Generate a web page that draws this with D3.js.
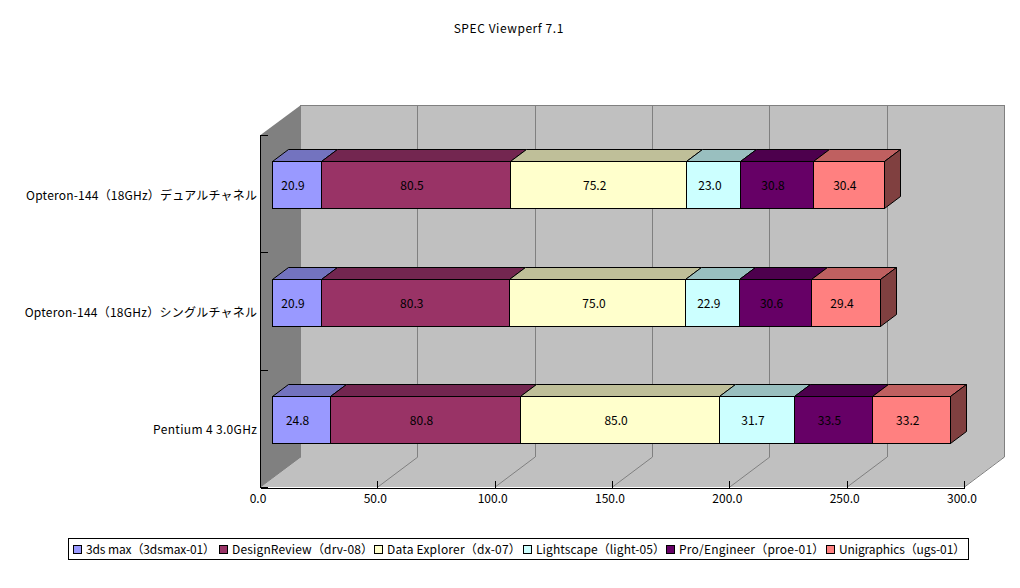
<!DOCTYPE html>
<html><head><meta charset="utf-8">
<script src="https://cdn.jsdelivr.net/npm/d3@7"></script>
<style>
html,body{margin:0;padding:0;background:#fff}
svg{display:block}
text{font-family:"Noto Sans CJK JP","Noto Sans",sans-serif;font-size:12px;fill:#000;font-weight:400}
</style></head><body>
<script>
const title = "SPEC Viewperf 7.1";
const categories = ["Opteron-144（18GHz）デュアルチャネル","Opteron-144（18GHz）シングルチャネル","Pentium 4 3.0GHz"];
const seriesNames = ["3ds max（3dsmax-01）","DesignReview（drv-08）","Data Explorer（dx-07）","Lightscape（light-05）","Pro/Engineer（proe-01）","Unigraphics（ugs-01）"];
const s3dsmax = [20.9,20.9,24.8];
const sDrv = [80.5,80.3,80.8];
const sDx = [75.2,75.0,85.0];
const sLight = [23.0,22.9,31.7];
const sProe = [30.8,30.6,33.5];
const sUgs = [30.4,29.4,33.2];
const seriesValues = [s3dsmax,sDrv,sDx,sLight,sProe,sUgs];
const ticks = [0,50,100,150,200,250,300];
const colors = ["#9999ff","#993366","#ffffcc","#ccffff","#660066","#ff8080"];
const topColors = ["#7373bf","#732650","#bfbf99","#99bfbf","#4d004d","#bf6060"];
const sideColors = ["#4d4d80","#4d1a33","#808066","#668080","#330033","#804040"];

const W=1020,H=588;
const svg=d3.select("body").append("svg").attr("width",W).attr("height",H);
const x=d3.scaleLinear().domain([0,300]).range([260,964]);
const y=d3.scaleBand().domain(categories).range([135,487]);
const wall={dx:40,dy:-30};
const bar={ox:12,oy:-9,dx:16,dy:-12,h:47};
const crisp=svg.append("g").attr("shape-rendering","crispEdges");
const poly=(g,pts,fill,stroke)=>g.append("polygon").attr("points",pts.map(p=>p.join(",")).join(" ")).attr("fill",fill).attr("stroke",stroke||"none");
const line=(g,a,b,c)=>g.append("line").attr("x1",a[0]).attr("y1",a[1]).attr("x2",b[0]).attr("y2",b[1]).attr("stroke",c).attr("stroke-width",1);
// stretch a text to the reference's width by a small delta
const fit=(sel,delta)=>{const n=sel.node();sel.attr("textLength",(n.getComputedTextLength()+delta).toFixed(1)).attr("lengthAdjust","spacing");return sel;};

const L=x(0),R=x(300),T=y.range()[0],B=y.range()[1];
const g3=svg.append("g");
poly(crisp,[[L+wall.dx,T+wall.dy],[R+wall.dx,T+wall.dy],[R+wall.dx,B+wall.dy],[L+wall.dx,B+wall.dy]],"#c0c0c0");
poly(g3,[[L+1,B],[R,B],[R+wall.dx,B+wall.dy],[L+wall.dx+1,B+wall.dy]],"#c0c0c0");
poly(g3,[[L+.5,T],[L+wall.dx+1,T+wall.dy],[L+wall.dx+1,B+wall.dy],[L+.5,B]],"#808080");
ticks.forEach(t=>{
  const px=x(t);
  line(g3,[px+.5,B],[px+wall.dx+.5,B+wall.dy],"#808080");
  line(crisp,[Math.round(px+wall.dx)+.5,T+wall.dy],[Math.round(px+wall.dx)+.5,B+wall.dy],"#808080");
});
line(crisp,[L+wall.dx,T+wall.dy+.5],[R+wall.dx,T+wall.dy+.5],"#808080");
line(crisp,[L+wall.dx,B+wall.dy+.5],[R+wall.dx,B+wall.dy+.5],"#808080");

const axisX=d3.axisBottom(x).tickValues(ticks).tickSize(0).tickFormat(d3.format(".1f"));
const ax=svg.append("g").attr("transform",`translate(0,${B+.5})`).call(axisX);
ax.select(".domain").attr("stroke","#000").attr("shape-rendering","crispEdges");
ax.selectAll(".tick line").attr("y2",-7).attr("stroke","#000").attr("shape-rendering","crispEdges");
ax.selectAll(".tick text").attr("x",-2.5).attr("y",7).attr("dy","0.71em").attr("font-size",null).attr("font-family",null);
const ay=svg.append("g").attr("transform",`translate(${L+.5},0)`);
ay.append("line").attr("y1",T).attr("y2",B).attr("stroke","#000").attr("shape-rendering","crispEdges");
d3.range(4).forEach(i=>{
  const ty=T+i*y.step();
  ay.append("line").attr("y1",Math.round(ty)+.5).attr("y2",Math.round(ty)+.5).attr("x2",7).attr("stroke","#000").attr("shape-rendering","crispEdges");
});
const catDelta=[5,6,5];
categories.forEach((c,i)=>{
  fit(svg.append("text").attr("x",257).attr("y",y(c)+y.bandwidth()/2+6).attr("text-anchor","end").text(c),catDelta[i]);
});

const stack=categories.map((c,i)=>{let acc=0;return seriesValues.map((v,k)=>{const a=acc;acc+=v[i];return {c,k,v:v[i],a,b:acc};});});
const barX=v=>x(v)+bar.ox;
stack.forEach(row=>{
  const g=svg.append("g").attr("stroke","#000").attr("stroke-width",1);
  const yt=Math.round(y(row[0].c)+y.bandwidth()/2+bar.oy-bar.h/2)+.5, yb=yt+bar.h;
  row.forEach(d=>{
    const x0=Math.round(barX(d.a))+.5,x1=Math.round(barX(d.b))+.5;
    poly(g,[[x0,yt],[x1,yt],[x1+bar.dx,yt+bar.dy],[x0+bar.dx,yt+bar.dy]],topColors[d.k],"#000");
  });
  const last=row[row.length-1];
  const xe=Math.round(barX(last.b))+.5;
  poly(g,[[xe,yt],[xe+bar.dx,yt+bar.dy],[xe+bar.dx,yb+bar.dy],[xe,yb]],sideColors[last.k],"#000");
  row.forEach(d=>{
    const x0=Math.round(barX(d.a))+.5,x1=Math.round(barX(d.b))+.5;
    g.append("rect").attr("x",x0).attr("y",yt).attr("width",x1-x0).attr("height",bar.h).attr("fill",colors[d.k]).attr("shape-rendering","crispEdges");
  });
  row.forEach(d=>{
    const x0=barX(d.a),x1=barX(d.b);
    svg.append("text").attr("x",(x0+x1)/2-3.5).attr("y",(yt+yb)/2+4.5).attr("text-anchor","middle").text(d.v.toFixed(1));
  });
});

fit(svg.append("text").attr("x",508.5).attr("y",33).attr("text-anchor","middle").text(title),9);

const legendX=[73,219,374,523,666,826];
const legendDelta=[-2,3,4,2,4,-2];
const lg=svg.append("g");
lg.append("rect").attr("x",68.5).attr("y",538.5).attr("width",900).attr("height",21).attr("fill","#fff").attr("stroke","#000").attr("shape-rendering","crispEdges");
seriesNames.forEach((n,k)=>{
  lg.append("rect").attr("x",legendX[k]+.5).attr("y",545.5).attr("width",8).attr("height",8).attr("fill",colors[k]).attr("stroke","#000").attr("shape-rendering","crispEdges");
  fit(lg.append("text").attr("x",legendX[k]+13).attr("y",554).text(n),legendDelta[k]);
});
</script></body></html>
